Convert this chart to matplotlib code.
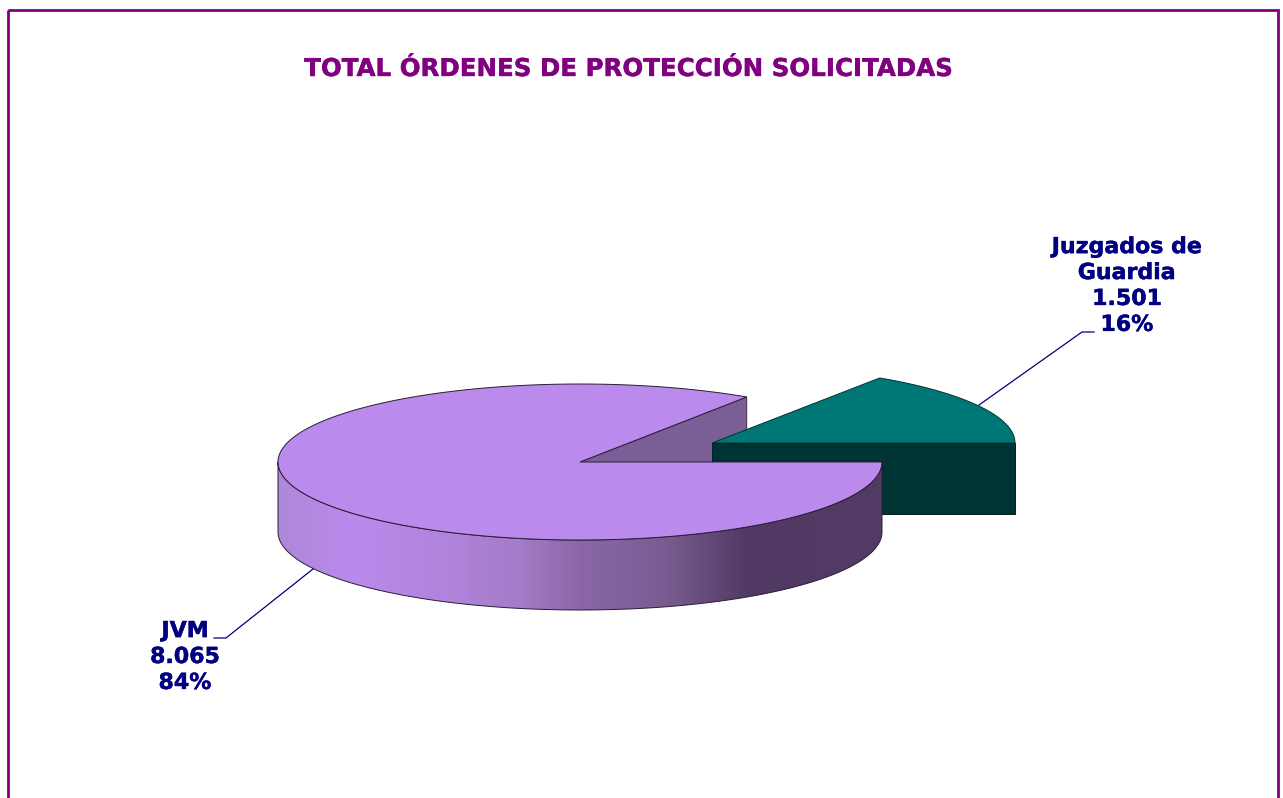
"""Tarta 3D: total de órdenes de protección solicitadas."""
import numpy as np
import matplotlib
matplotlib.use("Agg")
import matplotlib.pyplot as plt
import matplotlib.patheffects as pe
from matplotlib.colors import LinearSegmentedColormap
from matplotlib.patches import Polygon, Rectangle

# --- Datos ---
titulo = "TOTAL ÓRDENES DE PROTECCIÓN SOLICITADAS"
categorias = ["Juzgados de\nGuardia", "JVM"]
valores = [1501, 8065]
etiquetas_valor = ["1.501", "8.065"]
porcentajes = ["16%", "84%"]

# --- Geometria en pixeles ---
W, H = 1283, 798
RX, RY, DEPTH = 302, 78, 70
CX, CY = 580, 462
CX2, CY2 = 712, 443
MORADO = "#800080"
NAVY = "#000080"

fig = plt.figure(figsize=(W / 100, H / 100), dpi=100)
ax = fig.add_axes([0, 0, 1, 1])
ax.set_axis_off()


def arco(cx, cy, t0, t1, dy=0, n=200):
    t = np.radians(np.linspace(t0, t1, n))
    return np.column_stack([cx + RX * np.cos(t), cy - RY * np.sin(t) + dy])


# angulo que ocupa la porcion pequeña
ang = 360 * valores[0] / sum(valores)
borde = "#2a1c34"

# --- Marco ---
ax.add_patch(Rectangle((7.5, 10), 1270.5, 900, fill=False, ec=MORADO, lw=2.0))

# --- Pared interior de JVM ---
p = arco(CX, CY, ang, ang, n=1)[0]
ax.add_patch(Polygon([(CX, CY), p, (p[0], p[1] + DEPTH), (CX, CY + DEPTH)],
                     fc="#7a5f96", ec=borde, lw=0.6))

# --- Porcion Juzgados de Guardia ---
ax.add_patch(Rectangle((CX2, CY2), RX + 1, DEPTH + 1, fc="#003333", ec="#002020", lw=0.7))
top2 = np.vstack([[(CX2, CY2)], arco(CX2 + 1, CY2, 0, ang)])
ax.add_patch(Polygon(top2, fc="#007777", ec="#003333", lw=0.7))

# --- Pared frontal de JVM con degradado ---
cmap = LinearSegmentedColormap.from_list("pared", [
    (0.00, "#ae88d8"), (0.12, "#ba8aec"), (0.28, "#b084dc"), (0.40, "#a47cc8"),
    (0.50, "#8a66a8"), (0.64, "#7a5c92"), (0.78, "#503a64"), (1.00, "#523c66"),
])
sup = arco(CX, CY, 180, 360)
inf = arco(CX, CY, 180, 360, dy=DEPTH)
pared = Polygon(np.vstack([sup, inf[::-1]]), fc="none", ec=borde, lw=0.7, zorder=3)
ax.add_patch(pared)
grad = ax.imshow(np.linspace(0, 1, 604).reshape(1, -1), cmap=cmap, aspect="auto",
                 extent=(CX - RX, CX + RX, CY + RY + DEPTH, CY), zorder=2)
grad.set_clip_path(pared)

# --- Cara superior de JVM ---
top1 = np.vstack([[(CX, CY)], arco(CX, CY, ang, 360)])
ax.add_patch(Polygon(top1, fc="#ba8aec", ec=borde, lw=0.7, zorder=4))

# --- Lineas guia ---
ax.plot([979, 1082, 1094], [405, 332, 332], color=NAVY, lw=0.9, zorder=5)
ax.plot([313, 226, 214], [569, 638, 638], color=NAVY, lw=0.9, zorder=5)

# --- Textos ---
ax.text(628.5, 76, titulo, color=MORADO, fontsize=17.65, fontweight="bold",
        family="DejaVu Sans", ha="center", va="baseline",
        path_effects=[pe.withStroke(linewidth=0.3, foreground=MORADO)])
for i, (x, y) in enumerate([(1127, 286), (185, 657)]):
    txt = f"{categorias[i]}\n{etiquetas_valor[i]}\n{porcentajes[i]}"
    ax.text(x, y, txt, color=NAVY, fontsize=15.9, fontweight="bold",
            family="DejaVu Sans", ha="center", va="center", linespacing=1.37, zorder=6,
            path_effects=[pe.withStroke(linewidth=0.3, foreground=NAVY)])

ax.set_xlim(0, W)
ax.set_ylim(H, 0)

fig.savefig("out.png", dpi=100)
plt.close(fig)
